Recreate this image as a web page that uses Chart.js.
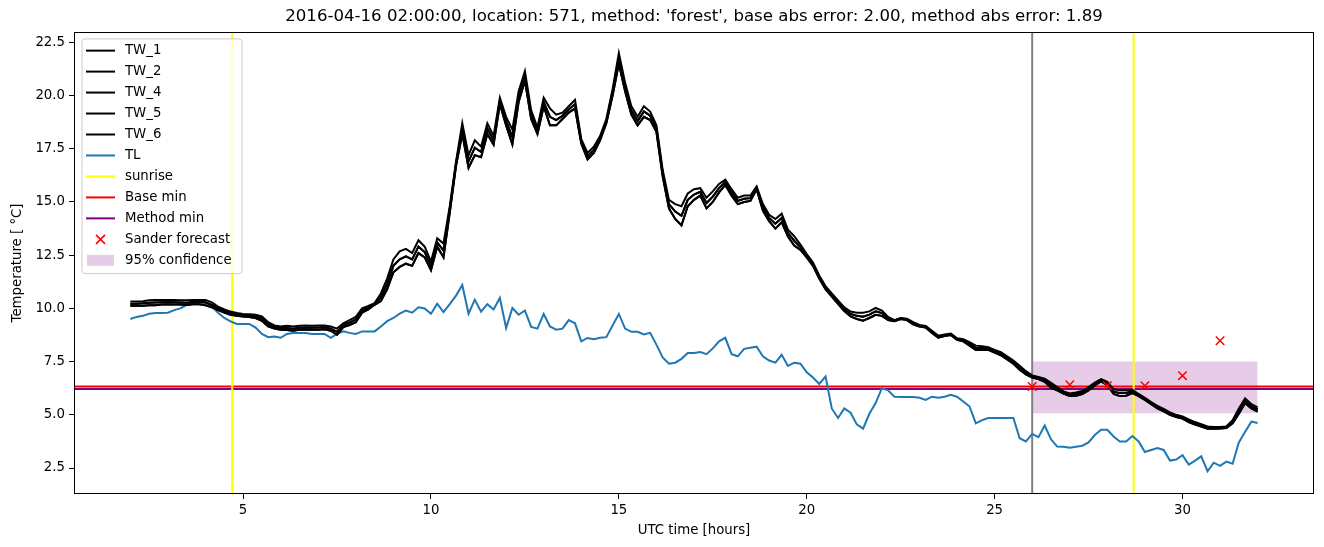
<!DOCTYPE html>
<html lang="en">
<head>
<meta charset="UTF-8">
<title>TW forecast location 571</title>
<script src="https://cdn.jsdelivr.net/npm/chart.js"></script>
<style>
  body { margin: 0; background: #fff; }
  #wrap { width: 1324px; height: 547px; position: relative; }
</style>
</head>
<body>
<div id="wrap"><canvas id="grafico"></canvas></div>
<script>
// time axis: 02:00 to 32:00, every 10 minutes
var hours = [];
for (var i = 0; i <= 180; i++) hours.push(2 + i / 6);

// air temperature (TL), one row per hour
var tl = [
  9.50, 9.60, 9.65, 9.75, 9.78, 9.78,
  9.80, 9.92, 10.00, 10.17, 10.25, 10.30,
  10.33, 10.10, 9.80, 9.55, 9.39, 9.27,
  9.27, 9.27, 9.10, 8.80, 8.65, 8.68,
  8.62, 8.80, 8.84, 8.84, 8.84, 8.80,
  8.80, 8.80, 8.62, 8.80, 8.92, 8.85,
  8.80, 8.92, 8.92, 8.92, 9.15, 9.40,
  9.55, 9.75, 9.90, 9.80, 10.05, 10.00,
  9.75, 10.22, 9.83, 10.20, 10.60, 11.10,
  9.75, 10.41, 9.85, 10.20, 9.95, 10.49,
  9.08, 10.02, 9.70, 9.90, 9.13, 9.05,
  9.74, 9.15, 9.00, 9.05, 9.45, 9.30,
  8.45, 8.61, 8.55, 8.62, 8.65, 9.20,
  9.74, 9.05, 8.90, 8.90, 8.78, 8.85,
  8.30, 7.70, 7.40, 7.45, 7.63, 7.90,
  7.90, 7.95, 7.85, 8.12, 8.45, 8.62,
  7.85, 7.75, 8.10, 8.15, 8.20, 7.75,
  7.55, 7.45, 7.82, 7.30, 7.45, 7.40,
  7.00, 6.75, 6.45, 6.80, 5.30, 4.85,
  5.30, 5.10, 4.55, 4.35, 5.05, 5.55,
  6.25, 6.15, 5.85, 5.84, 5.84, 5.84,
  5.80, 5.70, 5.85, 5.80, 5.85, 5.94,
  5.85, 5.63, 5.39, 4.60, 4.75, 4.85,
  4.85, 4.85, 4.85, 4.85, 3.90, 3.75,
  4.10, 3.95, 4.50, 3.85, 3.51, 3.50,
  3.45, 3.50, 3.55, 3.70, 4.05, 4.30,
  4.30, 3.98, 3.75, 3.75, 4.00, 3.75,
  3.25, 3.35, 3.44, 3.35, 2.85, 2.90,
  3.10, 2.66, 2.85, 3.05, 2.35, 2.75,
  2.60, 2.80, 2.70, 3.70, 4.20, 4.68,
  4.62
];

// water temperature sensors: upper, middle and lower track of the bundle
var twUpper = [
  10.32, 10.32, 10.34, 10.38, 10.40, 10.40,
  10.40, 10.40, 10.38, 10.38, 10.40, 10.40,
  10.40, 10.28, 10.08, 9.95, 9.85, 9.78,
  9.74, 9.72, 9.70, 9.62, 9.35, 9.20,
  9.15, 9.18, 9.15, 9.18, 9.20, 9.18,
  9.20, 9.20, 9.15, 9.05, 9.30, 9.45,
  9.60, 10.00, 10.12, 10.25, 10.70, 11.40,
  12.30, 12.68, 12.80, 12.60, 13.20, 12.90,
  12.20, 13.30, 13.05, 14.80, 16.90, 18.70,
  17.20, 17.90, 17.60, 18.70, 18.10, 19.90,
  19.00, 18.40, 20.20, 21.15, 19.30, 18.50,
  19.90, 19.40, 19.10, 19.20, 19.50, 19.80,
  17.95, 17.30, 17.60, 18.10, 18.90, 20.30,
  22.00, 20.60, 19.50, 19.00, 19.50, 19.25,
  18.60, 16.50, 15.10, 14.90, 14.80, 15.40,
  15.60, 15.65, 15.20, 15.50, 15.85, 16.05,
  15.60, 15.20, 15.30, 15.30, 15.73, 14.90,
  14.40, 14.20, 14.45, 13.70, 13.40, 13.00,
  12.55, 12.15, 11.55, 11.05, 10.70, 10.38,
  10.05, 9.85, 9.80, 9.80, 9.86, 10.02,
  9.90, 9.60, 9.45, 9.55, 9.52, 9.35,
  9.22, 9.18, 8.95, 8.72, 8.78, 8.82,
  8.60, 8.55, 8.42, 8.25, 8.22, 8.18,
  8.05, 7.95, 7.75, 7.55, 7.30, 7.05,
  6.85, 6.78, 6.70, 6.50, 6.30, 6.10,
  6.00, 6.05, 6.12, 6.30, 6.52, 6.68,
  6.55, 6.20, 6.15, 6.15, 6.18, 5.98,
  5.80, 5.60, 5.42, 5.28, 5.11, 5.00,
  4.92, 4.78, 4.66, 4.56, 4.45, 4.43,
  4.43, 4.45, 4.75, 5.30, 5.78, 5.50,
  5.35
];

var twMid = [
  10.22, 10.22, 10.24, 10.27, 10.28, 10.29,
  10.30, 10.29, 10.28, 10.27, 10.30, 10.30,
  10.28, 10.17, 10.00, 9.88, 9.78, 9.72,
  9.68, 9.66, 9.62, 9.52, 9.25, 9.12,
  9.08, 9.08, 9.05, 9.09, 9.10, 9.09,
  9.10, 9.11, 9.05, 8.90, 9.21, 9.33,
  9.48, 9.90, 10.03, 10.21, 10.52, 11.15,
  12.00, 12.31, 12.45, 12.30, 12.90, 12.65,
  12.00, 13.10, 12.72, 14.65, 16.80, 18.45,
  16.90, 17.55, 17.35, 18.45, 17.90, 19.75,
  18.80, 18.05, 19.95, 20.93, 19.10, 18.35,
  19.70, 19.00, 18.85, 19.05, 19.35, 19.60,
  17.85, 17.15, 17.45, 18.00, 18.80, 20.15,
  21.75, 20.40, 19.30, 18.80, 19.25, 19.05,
  18.45, 16.35, 14.90, 14.55, 14.35, 15.10,
  15.35, 15.48, 14.95, 15.25, 15.65, 15.93,
  15.45, 15.05, 15.15, 15.18, 15.67, 14.75,
  14.25, 13.98, 14.25, 13.54, 13.18, 12.88,
  12.48, 12.08, 11.48, 10.98, 10.63, 10.30,
  9.97, 9.74, 9.65, 9.61, 9.71, 9.86,
  9.78, 9.53, 9.43, 9.53, 9.49, 9.30,
  9.19, 9.14, 8.90, 8.67, 8.74, 8.79,
  8.56, 8.50, 8.34, 8.15, 8.14, 8.12,
  7.99, 7.88, 7.68, 7.48, 7.21, 6.98,
  6.80, 6.73, 6.63, 6.39, 6.23, 6.05,
  5.94, 5.98, 6.05, 6.23, 6.45, 6.63,
  6.48, 6.09, 6.02, 6.03, 6.10, 5.93,
  5.75, 5.55, 5.36, 5.22, 5.06, 4.95,
  4.87, 4.72, 4.60, 4.51, 4.40, 4.39,
  4.40, 4.42, 4.68, 5.18, 5.67, 5.40,
  5.25
];

var twLower = [
  10.12, 10.12, 10.13, 10.15, 10.15, 10.18,
  10.20, 10.18, 10.18, 10.16, 10.20, 10.20,
  10.15, 10.05, 9.92, 9.80, 9.70, 9.65,
  9.62, 9.60, 9.55, 9.42, 9.15, 9.05,
  9.00, 8.98, 8.95, 9.00, 9.00, 9.00,
  9.00, 9.02, 8.95, 8.76, 9.12, 9.22,
  9.35, 9.80, 9.95, 10.17, 10.35, 10.90,
  11.70, 11.95, 12.10, 12.00, 12.60, 12.40,
  11.80, 12.90, 12.40, 14.50, 16.70, 18.20,
  16.60, 17.20, 17.10, 18.20, 17.70, 19.60,
  18.60, 17.70, 19.70, 20.70, 18.90, 18.20,
  19.50, 18.60, 18.60, 18.90, 19.20, 19.40,
  17.75, 17.00, 17.30, 17.90, 18.70, 20.00,
  21.50, 20.20, 19.10, 18.60, 19.00, 18.85,
  18.30, 16.20, 14.70, 14.20, 13.90, 14.80,
  15.10, 15.30, 14.70, 15.00, 15.45, 15.80,
  15.30, 14.90, 15.00, 15.05, 15.60, 14.60,
  14.10, 13.75, 14.05, 13.38, 12.95, 12.75,
  12.40, 12.00, 11.40, 10.90, 10.55, 10.22,
  9.88, 9.62, 9.50, 9.42, 9.55, 9.70,
  9.65, 9.45, 9.40, 9.50, 9.45, 9.25,
  9.15, 9.10, 8.85, 8.62, 8.70, 8.75,
  8.52, 8.45, 8.25, 8.05, 8.06, 8.05,
  7.92, 7.80, 7.60, 7.40, 7.12, 6.90,
  6.75, 6.68, 6.55, 6.28, 6.15, 6.00,
  5.88, 5.90, 5.98, 6.15, 6.38, 6.57,
  6.40, 5.98, 5.88, 5.90, 6.02, 5.88,
  5.70, 5.50, 5.30, 5.16, 5.00, 4.90,
  4.82, 4.66, 4.54, 4.45, 4.35, 4.35,
  4.36, 4.38, 4.60, 5.05, 5.55, 5.30,
  5.15
];

var twNames = ['TW_1', 'TW_2', 'TW_4', 'TW_5', 'TW_6'];
var twTracks = [twUpper, twMid, twLower, twLower, twMid];

var sanderHours = [26, 27, 28, 29, 30, 31];
var sanderValues = [6.33, 6.41, 6.37, 6.37, 6.84, 8.48];

var sunriseHours = [4.71, 28.70];
var forecastHour = 26;
var baseMin = 6.33;
var methodMin = 6.21;
var confStart = 26, confEnd = 32;
var confLow = 5.07, confHigh = 7.5;

var xTicks = [5, 10, 15, 20, 25, 30];
var yTicks = [2.5, 5, 7.5, 10, 12.5, 15, 17.5, 20, 22.5];
var xMin = 0.5, xMax = 33.5, yMin = 1.28, yMax = 22.99;

var titulo = "2016-04-16 02:00:00, location: 571, method: 'forest', base abs error: 2.00, method abs error: 1.89";

function pontos(xs, ys) {
  var lista = [];
  for (var i = 0; i < xs.length; i++) lista.push({ x: xs[i], y: ys[i] });
  return lista;
}

function linha(label, dados, cor, largura, ordem) {
  return {
    label: label, data: dados, borderColor: cor, backgroundColor: cor,
    borderWidth: largura, pointRadius: 0, tension: 0, fill: false,
    order: ordem, clip: 0
  };
}

var datasets = [];

// Sander forecast on top
datasets.push({
  label: 'Sander forecast', data: pontos(sanderHours, sanderValues),
  showLine: false, pointStyle: 'crossRot', pointRadius: 6, borderWidth: 1.5,
  borderColor: 'red', backgroundColor: 'red', order: 0
});

for (var t = 0; t < twNames.length; t++) {
  datasets.push(linha(twNames[t], pontos(hours, twTracks[t]), '#000000', 2, 2));
}
datasets.push(linha('TL', pontos(hours, tl), '#1f77b4', 2, 3));

var sunriseData = [];
sunriseHours.forEach(function (h, i) {
  if (i > 0) sunriseData.push({ x: (h + sunriseHours[i - 1]) / 2, y: null });
  sunriseData.push({ x: h, y: -100 }, { x: h, y: 100 });
});
datasets.push(linha('sunrise', sunriseData, '#ffff00', 2, 4));
datasets.push(linha('Base min', pontos([-100, 100], [baseMin, baseMin]), '#ff0000', 2, 4));
datasets.push(linha('Method min', pontos([-100, 100], [methodMin, methodMin]), '#800080', 2, 4));
datasets.push(linha('now', pontos([forecastHour, forecastHour], [-100, 100]), '#808080', 2, 5));

var conf = linha('95% confidence', pontos([confStart, confEnd], [confHigh, confHigh]), 'rgba(128,0,128,0.2)', 0, 10);
conf.fill = { value: confLow };
datasets.push(conf);

var itensLegenda = [
  { text: 'TW_1', tipo: 'linha', cor: '#000000' },
  { text: 'TW_2', tipo: 'linha', cor: '#000000' },
  { text: 'TW_4', tipo: 'linha', cor: '#000000' },
  { text: 'TW_5', tipo: 'linha', cor: '#000000' },
  { text: 'TW_6', tipo: 'linha', cor: '#000000' },
  { text: 'TL', tipo: 'linha', cor: '#1f77b4' },
  { text: 'sunrise', tipo: 'linha', cor: '#ffff00' },
  { text: 'Base min', tipo: 'linha', cor: '#ff0000' },
  { text: 'Method min', tipo: 'linha', cor: '#800080' },
  { text: 'Sander forecast', tipo: 'x', cor: '#ff0000' },
  { text: '95% confidence', tipo: 'patch', cor: 'rgba(128,0,128,0.2)' }
];

var fonte = { family: 'DejaVu Sans', size: 13.3 };

var moldura = {
  id: 'moldura',
  afterDatasetsDraw: function (chart) {
    var a = chart.chartArea, ctx = chart.ctx;
    ctx.save();
    ctx.strokeStyle = '#000';
    ctx.lineWidth = 1;
    ctx.strokeRect(Math.round(a.left) + 0.5, Math.round(a.top) + 0.5,
      Math.round(a.right - a.left) - 1, Math.round(a.bottom - a.top) - 1);
    ctx.restore();
  }
};

var legendaDentro = {
  id: 'legendaDentro',
  afterDraw: function (chart) {
    var ctx = chart.ctx, a = chart.chartArea;
    var x = a.left + 8, y = a.top + 7, w = 160, passo = 20.97;
    var h = itensLegenda.length * passo + 4, r = 3;
    ctx.save();
    ctx.beginPath();
    ctx.moveTo(x + r, y);
    ctx.arcTo(x + w, y, x + w, y + h, r);
    ctx.arcTo(x + w, y + h, x, y + h, r);
    ctx.arcTo(x, y + h, x, y, r);
    ctx.arcTo(x, y, x + w, y, r);
    ctx.closePath();
    ctx.fillStyle = 'rgba(255,255,255,0.8)';
    ctx.fill();
    ctx.strokeStyle = '#cccccc';
    ctx.lineWidth = 1;
    ctx.stroke();

    ctx.font = '13.3px "DejaVu Sans"';
    ctx.textBaseline = 'middle';
    itensLegenda.forEach(function (it, i) {
      var cy = y + 11.7 + i * passo;
      if (it.tipo === 'linha') {
        ctx.strokeStyle = it.cor;
        ctx.lineWidth = 2;
        ctx.beginPath();
        ctx.moveTo(x + 4, cy);
        ctx.lineTo(x + 33, cy);
        ctx.stroke();
      } else if (it.tipo === 'x') {
        ctx.strokeStyle = it.cor;
        ctx.lineWidth = 1.5;
        ctx.beginPath();
        ctx.moveTo(x + 14, cy - 4.5); ctx.lineTo(x + 23, cy + 4.5);
        ctx.moveTo(x + 23, cy - 4.5); ctx.lineTo(x + 14, cy + 4.5);
        ctx.stroke();
      } else {
        ctx.fillStyle = it.cor;
        ctx.fillRect(x + 5, cy - 5.5, 27, 11);
      }
      ctx.fillStyle = '#000';
      ctx.fillText(it.text, x + 43, cy);
    });
    ctx.restore();
  }
};

Chart.defaults.font.family = 'DejaVu Sans';

new Chart(document.getElementById('grafico'), {
  type: 'line',
  data: { datasets: datasets },
  plugins: [moldura, legendaDentro],
  options: {
    responsive: true,
    maintainAspectRatio: false,
    animation: false,
    layout: { padding: { left: 6, right: 10, top: 0, bottom: 0 } },
    plugins: {
      legend: { display: false },
      tooltip: { enabled: false },
      title: {
        display: true, fullSize: false, text: titulo, color: '#000',
        font: { family: 'DejaVu Sans', size: 16.6, weight: 'normal', lineHeight: 1.2 },
        padding: { top: 7, bottom: 5 }
      }
    },
    scales: {
      x: {
        type: 'linear', min: xMin, max: xMax,
        afterBuildTicks: function (s) { s.ticks = xTicks.map(function (v) { return { value: v }; }); },
        afterFit: function (s) { s.height = 53; },
        grid: { drawOnChartArea: false, drawTicks: true, tickLength: 5, color: '#000' },
        border: { display: false },
        ticks: { color: '#000', padding: 4, font: fonte, maxRotation: 0, callback: function (v) { return String(v); } },
        title: { display: true, text: 'UTC time [hours]', color: '#000', font: fonte, padding: { top: 4, bottom: 8 } }
      },
      y: {
        type: 'linear', min: yMin, max: yMax,
        afterBuildTicks: function (s) { s.ticks = yTicks.map(function (v) { return { value: v }; }); },
        afterFit: function (s) { s.width = 68; },
        grid: { drawOnChartArea: false, drawTicks: true, tickLength: 5, color: '#000' },
        border: { display: false },
        ticks: { color: '#000', padding: 4, font: fonte, callback: function (v) { return v.toFixed(1); } },
        title: { display: true, text: 'Temperature [ °C]', color: '#000', font: fonte, padding: { top: 4, bottom: 4 } }
      }
    }
  }
});
</script>
</body>
</html>
